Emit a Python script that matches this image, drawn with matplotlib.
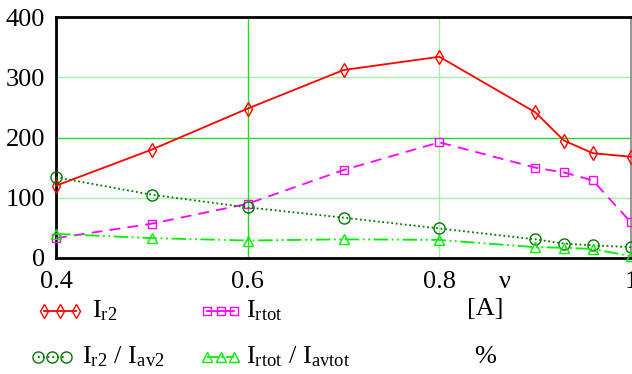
import matplotlib
matplotlib.use("Agg")
import matplotlib.pyplot as plt
from matplotlib.lines import Line2D

plt.rcParams['font.family'] = ['Liberation Serif', 'DejaVu Serif']
plt.rcParams['mathtext.fontset'] = 'custom'
plt.rcParams['mathtext.rm'] = 'Liberation Serif'
plt.rcParams['mathtext.it'] = 'Liberation Serif'

nu = [0.4, 0.5, 0.6, 0.7, 0.8, 0.9, 0.93, 0.96, 1.0]
I_r2 = [120, 180, 248, 312, 334, 242, 195, 174, 168]
I_rtot = [33, 57, 90, 146, 192, 150, 142, 129, 59]
I_r2_ratio = [134, 105, 84, 67, 49, 31, 24, 21, 18]
I_rtot_ratio = [40, 33, 29, 31, 30, 18, 17, 15, 3]

xticks = [0.4, 0.6, 0.8, 1.0]
xticklabels = ['0.4', '0.6', '0.8', '1']
yticks = [0, 100, 200, 300, 400]

fig = plt.figure(figsize=(6.32, 3.74), dpi=100)
ax = fig.add_axes([56/632, 1-258/374, 575/632, 241/374])
ax.set_xlim(0.4, 1.0)
ax.set_ylim(0, 400)

light = '#a8f0a8'
bright = '#22dd22'
for y in [100, 300]:
    ax.axhline(y, color=light, lw=1, zorder=0)
ax.axhline(200, color=bright, lw=1, zorder=0)
ax.axvline(0.6, color=bright, lw=1, zorder=0)
ax.axvline(0.8, color=light, lw=1, zorder=0)

ms = 7
ax.plot(nu, I_r2, color='#ff0000', lw=1.3, marker='d', ms=ms, mfc='none', mec='#ff0000', clip_on=False, zorder=3)
ax.plot(nu, I_rtot, color='#ff00ff', lw=1.3, ls=(0, (6, 4)), marker='s', ms=ms-1, mfc='none', mec='#ff00ff', clip_on=False, zorder=3)
ax.plot(nu, I_r2_ratio, color='#007700', lw=1.3, ls=(0, (1, 1.5)), marker='o', ms=ms+1, mfc='none', mec='#007700', clip_on=False, zorder=3)
ax.plot(nu, I_rtot_ratio, color='#00ee00', lw=1.3, ls=(0, (8, 2, 1, 2, 1, 2)), marker='^', ms=ms, mfc='none', mec='#00ee00', clip_on=False, zorder=3)

for sp in ['left', 'top', 'bottom']:
    ax.spines[sp].set_linewidth(2)
    ax.spines[sp].set_color('black')
ax.spines['right'].set_linewidth(1.5)
ax.spines['right'].set_color('#999999')

ax.set_xticks(xticks)
ax.set_xticklabels(xticklabels)
ax.set_yticks(yticks)
ax.tick_params(length=0, labelsize=19)
ax.tick_params(axis='x', pad=9)
ax.tick_params(axis='y', pad=8)
ax.text((505-56)/575, -0.055, 'ν', transform=ax.transAxes, ha='center', va='top', fontsize=19)

# legend
def sample(x0, x1, y, color, marker, ls, ms_):
    xs = [x0/632, (x0+x1)/2/632, x1/632]
    ys = [1-y/374]*3
    fig.add_artist(Line2D(xs, ys, transform=fig.transFigure, color=color, lw=1.3,
                          ls=ls, marker=marker, ms=ms_, mfc='none', mec=color))

sample(44, 76, 311, '#ff0000', 'd', '-', 7)
sample(207, 234, 311, '#ff00ff', 's', '-', 6)
sample(38, 66, 357, '#007700', 'o', ':', 8)
sample(207, 234, 357, '#00ee00', '^', '-.', 7)

fs = 19
fig.text(92/632, 1-311/374, r'$\mathrm{I_{r2}}$', fontsize=fs, va='center')
fig.text(246/632, 1-311/374, r'$\mathrm{I_{rtot}}$', fontsize=fs, va='center')
fig.text(485/632, 1-309/374, '[A]', fontsize=fs, va='center', ha='center')
fig.text(82/632, 1-357/374, r'$\mathrm{I_{r2}\ /\ I_{av2}}$', fontsize=fs, va='center')
fig.text(246/632, 1-357/374, r'$\mathrm{I_{rtot}\ /\ I_{avtot}}$', fontsize=fs, va='center')
fig.text(485/632, 1-357/374, '%', fontsize=fs, va='center', ha='center')

fig.savefig('out.png', dpi=100)
